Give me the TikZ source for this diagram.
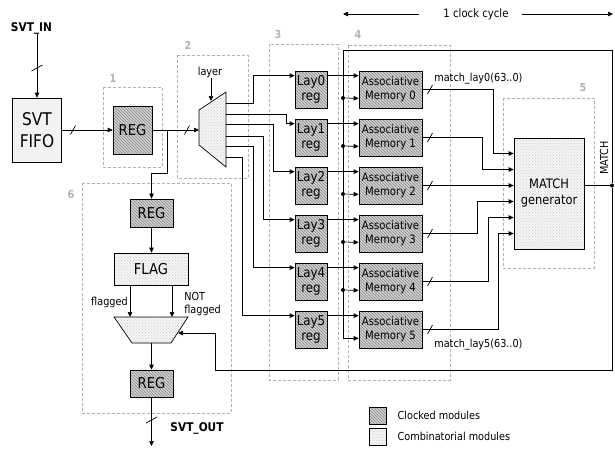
\documentclass[tikz,border=0pt]{standalone}
\usepackage{fontspec}
\setmainfont{DejaVu Sans}[FakeStretch=0.88]
\usetikzlibrary{arrows.meta,patterns}

\begin{document}
\begin{tikzpicture}[x=1pt, y=-1pt, >={Triangle[length=5pt,width=4.5pt]}, line width=.7pt,
 clocked/.style={draw, preaction={fill=gray!35}, pattern=north west lines, pattern color=gray!95},
 comb/.style={draw, preaction={fill=gray!8}, pattern=crosshatch dots, pattern color=gray!40},
 group/.style={draw=gray!60, densely dashed, line width=.5pt},
 num/.style={text=gray!60, font=\bfseries\fontsize{11}{11}\selectfont},
 lbl/.style={font=\fontsize{11}{13}\selectfont, inner sep=0pt},
 sig/.style={font=\bfseries\fontsize{12}{13}\selectfont, inner sep=0pt},
 reg/.style={clocked, inner sep=0pt, font=\fontsize{15}{17}\selectfont},
 lay/.style={clocked, inner sep=0pt, align=center, minimum width=32pt, minimum height=37pt,
 font=\fontsize{13.5}{15}\selectfont},
 mem/.style={clocked, inner sep=0pt, align=center, minimum width=63pt, minimum height=37pt,
 font=\fontsize{11.5}{14}\selectfont},
 dot/.style={circle, fill, inner sep=0pt, minimum size=4pt},
 hmark/.pic={\draw[-] (-2.5,4.5) -- (2.5,-4.5);},
 vmark/.pic={\draw[-] (-5.5,3) -- (5.5,-3);}]
\useasboundingbox (0,0) rectangle (615,448);

% numbered groups
\draw[group] (103,87) rectangle (162,167);
\draw[group] (177,55) rectangle (248,178);
\draw[group] (269,44) rectangle (338,380);
\draw[group] (348,45) rectangle (450,380);
\draw[group] (503,98) rectangle (594,268);
\draw[group] (82,183) rectangle (231,413);
\node[num] (g1) at (113,78) {1};
\node[num] (g2) at (188,45) {2};
\node[num] (g3) at (278,34) {3};
\node[num] (g4) at (358,34) {4};
\node[num] (g5) at (583,88) {5};
\node[num] (g6) at (71,194) {6};

% input side
\node[sig] (svtin) at (31.5,28) {SVT\_IN};
\node[draw, fill=gray!10, inner sep=0pt, align=center, minimum width=49pt, minimum height=64pt,
 font=\fontsize{17.5}{22}\selectfont] (fifo) at (37,130) {SVT\\FIFO};
\node[reg, minimum width=39pt, minimum height=48pt] (reg1) at (132.5,130) {REG};
\draw[->] (svtin.south -| fifo.north) -- (fifo.north);
\pic at (37,68) {vmark};
\draw[->] (fifo.east) -- (reg1.west);
\pic at (73,130) {hmark};

% layer mux
\draw[comb] (199,110) -- (226,92) -- (226,167) -- (199,145) -- cycle;
\coordinate (muxin) at (199,130);
\coordinate (muxsel) at (211,101);
\coordinate (o0) at (226,103);
\coordinate (o1) at (226,114);
\coordinate (o2) at (226,124);
\coordinate (o3) at (226,136);
\coordinate (o4) at (226,146);
\coordinate (o5) at (226,157);
\node[lbl] (layer) at (210,72) {layer};
\draw[->] (layer.south -| muxsel) -- (muxsel);
\coordinate (split) at (167,130);
\draw[->] (reg1.east) -- (muxin);
\pic at (187,130) {hmark};

% layer registers and associative memories
\node[lay] (lay0) at (311,89.5) {Lay0\\reg};
\node[lay] (lay1) at (311,137.5) {Lay1\\reg};
\node[lay] (lay2) at (311,185.5) {Lay2\\reg};
\node[lay] (lay3) at (311,233.5) {Lay3\\reg};
\node[lay] (lay4) at (311,281.5) {Lay4\\reg};
\node[lay] (lay5) at (311,329.5) {Lay5\\reg};
\node[mem] (mem0) at (390.5,89.5) {Associative\\Memory 0};
\node[mem] (mem1) at (390.5,137.5) {Associative\\Memory 1};
\node[mem] (mem2) at (390.5,185.5) {Associative\\Memory 2};
\node[mem] (mem3) at (390.5,233.5) {Associative\\Memory 3};
\node[mem] (mem4) at (390.5,281.5) {Associative\\Memory 4};
\node[mem] (mem5) at (390.5,329.5) {Associative\\Memory 5};
\draw[->] (o0) -- (253,103) |- ([yshift=-5pt]lay0.north west);
\draw[->] (o1) -- (286,114) |- ([yshift=-5pt]lay1.north west);
\draw[->] (o2) -- (273,124) |- ([yshift=-5pt]lay2.north west);
\draw[->] (o3) -- (263,136) |- ([yshift=-5pt]lay3.north west);
\draw[->] (o4) -- (253,146) |- ([yshift=-5pt]lay4.north west);
\draw[->] (o5) -- (242,157) |- ([yshift=-5pt]lay5.north west);
\draw[->] ([yshift=-5pt]lay0.north east) -- ([yshift=-5pt]mem0.north west);
\draw[->] ([yshift=-5pt]lay1.north east) -- ([yshift=-5pt]mem1.north west);
\draw[->] ([yshift=-5pt]lay2.north east) -- ([yshift=-5pt]mem2.north west);
\draw[->] ([yshift=-5pt]lay3.north east) -- ([yshift=-5pt]mem3.north west);
\draw[->] ([yshift=-5pt]lay4.north east) -- ([yshift=-5pt]mem4.north west);
\draw[->] ([yshift=-5pt]lay5.north east) -- ([yshift=-5pt]mem5.north west);

% match generator
\node[comb, inner sep=0pt, align=center, minimum width=70pt, minimum height=111pt,
 font=\fontsize{13}{16}\selectfont] (gen) at (549,193.5) {MATCH\\generator};
\draw[->] (mem0.east) -- (493,89.5) |- ([yshift=40pt]gen.west);
\draw[->] (mem1.east) -- (482,137.5) |- ([yshift=24pt]gen.west);
\draw[->] (mem2.east) -- ([yshift=8pt]gen.west);
\draw[->] (mem3.east) -- (477,233.5) |- ([yshift=-8pt]gen.west);
\draw[->] (mem4.east) -- (488,281.5) |- ([yshift=-24pt]gen.west);
\draw[->] (mem5.east) -- (498,329.5) |- ([yshift=-40pt]gen.west);
\pic at (430,89.5) {hmark};
\pic at (430,137.5) {hmark};
\pic at (430,185.5) {hmark};
\pic at (430,233.5) {hmark};
\pic at (430,281.5) {hmark};
\pic at (430,329.5) {hmark};
\node[lbl, anchor=west] (lay0out) at (434,79) {match\_lay0(63..0)};
\node[lbl, anchor=west] (lay5out) at (434,345) {match\_lay5(63..0)};

% MATCH feedback
\node[dot] (matchout) at (612,185.5) {};
\node[lbl, rotate=90] (matchlbl) at (604,158) {MATCH};
\draw ([yshift=8pt]gen.east) -- (matchout);
\draw[->] (matchout) |- (343,50) |- ([yshift=10pt]mem5.south west);
\node[dot] (d0) at (343,98) {};
\node[dot] (d1) at (343,146) {};
\node[dot] (d2) at (343,194) {};
\node[dot] (d3) at (343,242) {};
\node[dot] (d4) at (343,290) {};
\draw[->] (d0) -- ([yshift=10pt]mem0.south west);
\draw[->] (d1) -- ([yshift=10pt]mem1.south west);
\draw[->] (d2) -- ([yshift=10pt]mem2.south west);
\draw[->] (d3) -- ([yshift=10pt]mem3.south west);
\draw[->] (d4) -- ([yshift=10pt]mem4.south west);

% output side
\node[reg, minimum width=43pt, minimum height=28pt] (reg2) at (151.5,213) {REG};
\node[comb, inner sep=0pt, minimum width=74pt, minimum height=32pt,
 font=\fontsize{15}{17}\selectfont] (flag) at (151,269) {FLAG};
\draw[comb] (114,317) -- (188,317) -- (171,343) -- (132,343) -- cycle;
\coordinate (fl) at (130,317);
\coordinate (nfl) at (172,317);
\coordinate (m2sel) at (178,333);
\coordinate (m2out) at (151.5,343);
\node[reg, minimum width=43pt, minimum height=27pt] (reg3) at (151.5,383.5) {REG};
\draw[->] (split) -- (167,173) -| (reg2.north);
\draw[->] (reg2.south) -- (flag.north -| reg2.south);
\draw[->] ([xshift=-21pt]flag.south) -- (fl);
\draw[->] ([xshift=21pt]flag.south) -- (nfl);
\node[lbl, anchor=east] (flagged) at (128,302) {flagged};
\node[lbl, anchor=west, align=left] (notflagged) at (184,304) {NOT\\flagged};
\draw[->] (matchout) |- (215,370) |- (m2sel);
\draw[->] (m2out) -- (reg3.north);
\coordinate (svtoutpt) at (151.5,446);
\draw[->] (reg3.south) -- (svtoutpt);
\pic at (151.5,420) {vmark};
\node[sig] (svtout) at (197,428) {SVT\_OUT};

% clock cycle
\node[font=\fontsize{11.5}{13}\selectfont, inner sep=0pt] (cycle) at (476,14) {1 clock cycle};
\coordinate (cycl) at (343,14);
\coordinate (cycr) at (613,14);
\draw[->] ([xshift=-24pt]cycle.west) -- (cycl);
\draw[->] ([xshift=13pt]cycle.east) -- (cycr);

% legend
\node[clocked, minimum size=17pt, inner sep=0pt] (legclk) at (377.5,415.5) {};
\node[comb, minimum size=17pt, inner sep=0pt] (legcomb) at (377.5,436.5) {};
\node[lbl, anchor=west] (legclktxt) at ([xshift=11pt]legclk.east) {Clocked modules};
\node[lbl, anchor=west] (legcombtxt) at ([xshift=11pt]legcomb.east) {Combinatorial modules};
\end{tikzpicture}
\end{document}
